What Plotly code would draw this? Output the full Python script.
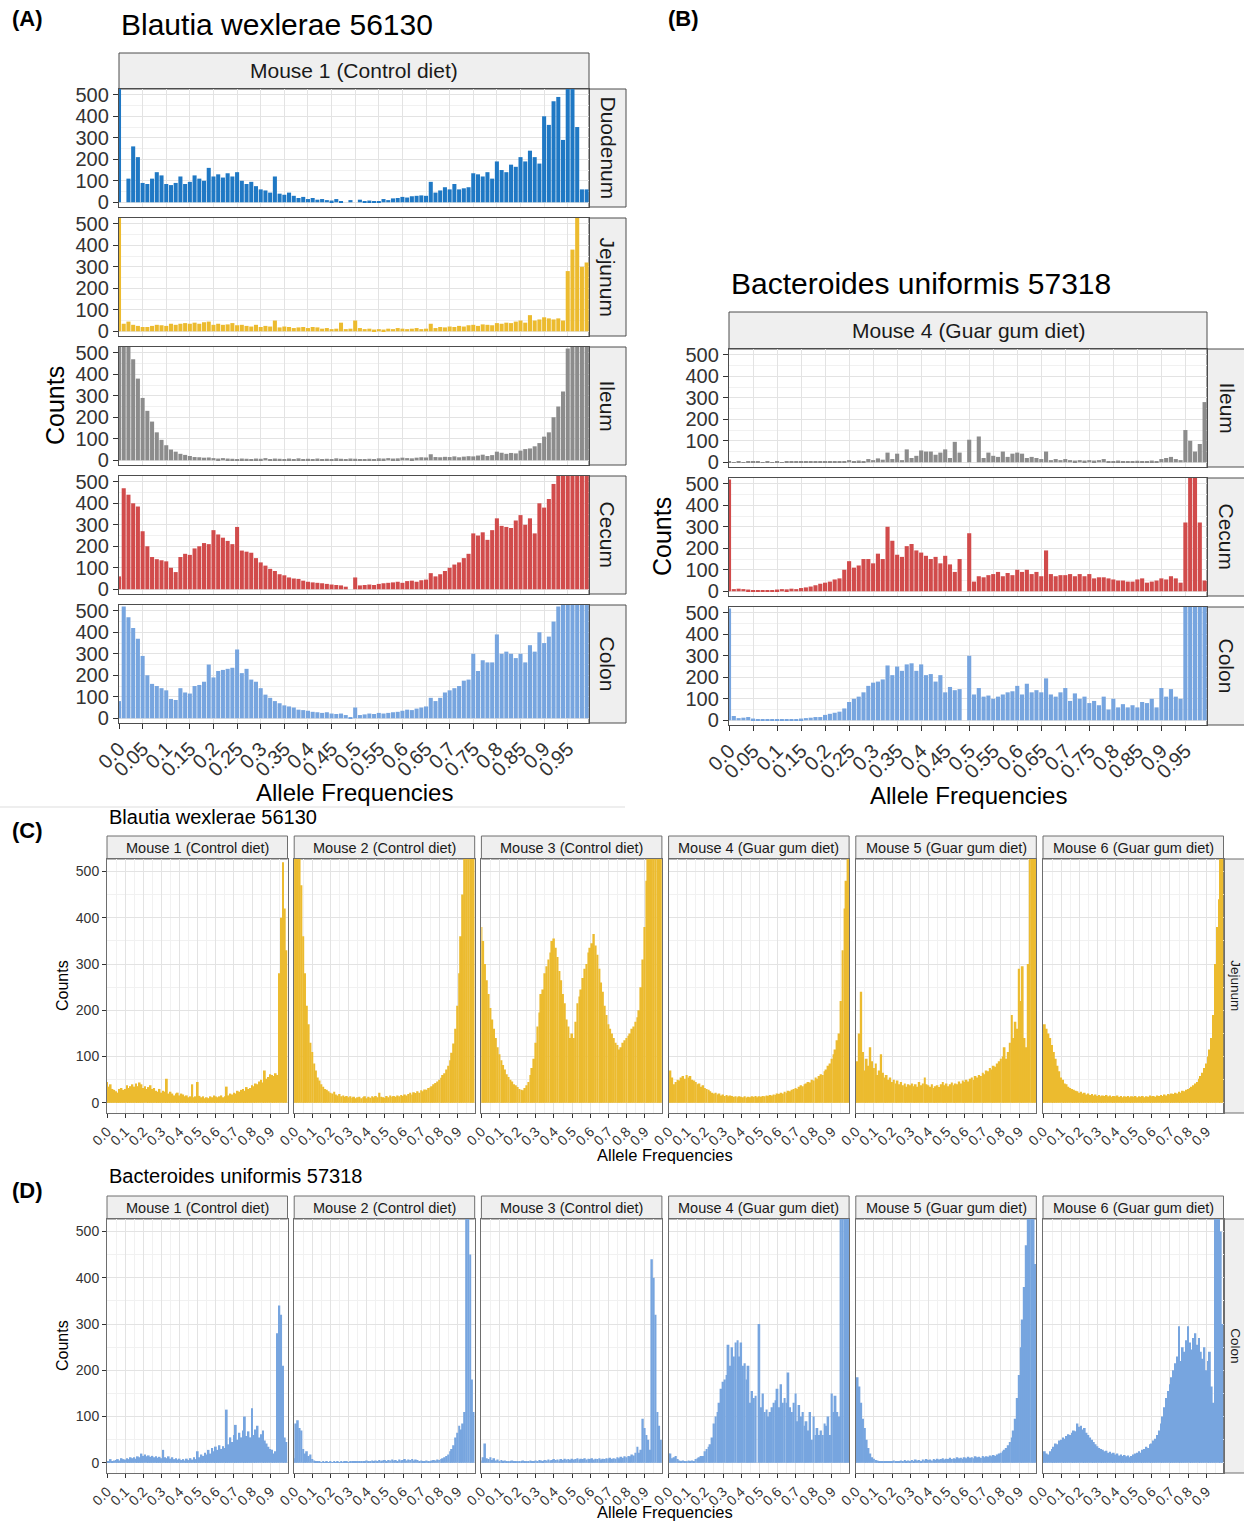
import plotly.graph_objects as go

W, H = 1244, 1523
FONT = "Liberation Sans, Arial, Helvetica, sans-serif"

# ---------------------------------------------------------------- bins / ticks
BIN_WIDTH = 0.01
bin_centers = [round(i * BIN_WIDTH, 2) for i in range(100)]

fine_tick_vals = [0.0, 0.05, 0.1, 0.15, 0.2, 0.25, 0.3, 0.35, 0.4, 0.45,
                  0.5, 0.55, 0.6, 0.65, 0.7, 0.75, 0.8, 0.85, 0.9, 0.95]
fine_tick_text = ["0.0", "0.05", "0.1", "0.15", "0.2", "0.25", "0.3", "0.35", "0.4", "0.45",
                  "0.5", "0.55", "0.6", "0.65", "0.7", "0.75", "0.8", "0.85", "0.9", "0.95"]
coarse_tick_vals = [0.0, 0.1, 0.2, 0.3, 0.4, 0.5, 0.6, 0.7, 0.8, 0.9]
coarse_tick_text = ["0.0", "0.1", "0.2", "0.3", "0.4", "0.5", "0.6", "0.7", "0.8", "0.9"]
count_tick_vals = [0, 100, 200, 300, 400, 500]
count_tick_text = ["0", "100", "200", "300", "400", "500"]

X_RANGE = [0, 0.995]
Y_RANGE = [-22, 527]

# ---------------------------------------------------------------- colours
COL_DUODENUM = "#1f78c4"
COL_JEJUNUM = "#ecbb2f"
COL_ILEUM = "#8c8c8c"
COL_CECUM = "#d14b4b"
COL_COLON = "#77a5df"

# ---------------------------------------------------------------- (A) Blautia wexlerae, mouse 1, all sections
bw_m1_duodenum = [
    600, 0, 110, 260, 210, 90, 85, 110, 140, 125,
    85, 80, 90, 120, 85, 95, 125, 110, 100, 160,
    120, 130, 115, 135, 120, 140, 100, 85, 95, 75,
    60, 55, 45, 120, 40, 35, 45, 30, 20, 25,
    15, 20, 12, 15, 10, 8, 15, 5, 0, 10,
    0, 12, 5, 8, 6, 5, 15, 10, 18, 20,
    25, 22, 28, 30, 32, 30, 95, 45, 55, 70,
    60, 85, 60, 65, 70, 135, 130, 120, 140, 110,
    190, 150, 140, 175, 165, 210, 190, 240, 210, 180,
    400, 360, 470, 490, 290, 600, 620, 350, 60, 60,
]
bw_m1_jejunum = [
    600, 35, 45, 30, 25, 20, 20, 25, 30, 28,
    25, 35, 30, 35, 38, 35, 40, 35, 42, 45,
    30, 35, 30, 32, 38, 28, 30, 25, 22, 30,
    20, 25, 22, 50, 18, 22, 20, 15, 18, 20,
    15, 20, 18, 12, 15, 10, 12, 40, 10, 12,
    50, 15, 10, 12, 8, 10, 8, 12, 10, 15,
    12, 10, 12, 15, 10, 12, 35, 15, 20, 18,
    22, 20, 25, 22, 28, 30, 25, 32, 30, 28,
    38, 35, 40, 38, 45, 50, 40, 75, 50, 55,
    65, 60, 55, 60, 50, 280, 380, 600, 300, 320,
]
bw_m1_ileum = [
    800, 700, 600, 470, 380, 290, 230, 180, 130, 95,
    70, 50, 40, 30, 25, 20, 15, 14, 12, 13,
    10, 8, 10, 8, 7, 6, 8, 7, 6, 8,
    7, 10, 6, 8, 7, 6, 8, 5, 9, 6,
    7, 5, 8, 6, 7, 5, 9, 7, 6, 8,
    7, 6, 5, 7, 6, 9, 8, 10, 8, 9,
    12, 10, 9, 12, 14, 13, 28, 15, 14, 16,
    15, 18, 14, 17, 19, 18, 22, 26, 20, 24,
    40, 35, 30, 34, 32, 45, 52, 55, 65, 80,
    110, 130, 200, 250, 320, 520, 620, 700, 750, 800,
]
bw_m1_cecum = [
    60, 470, 440, 400, 385, 270, 200, 150, 140, 135,
    130, 100, 80, 150, 165, 160, 190, 200, 215, 210,
    275, 255, 240, 225, 210, 290, 180, 175, 170, 145,
    125, 110, 95, 85, 70, 65, 55, 50, 48, 40,
    35, 32, 30, 28, 25, 22, 20, 18, 12, 0,
    55, 18, 20, 22, 20, 25, 28, 30, 32, 35,
    30, 38, 40, 35, 42, 45, 75, 60, 70, 85,
    100, 115, 125, 145, 165, 260, 250, 265, 230, 275,
    330, 295, 290, 285, 320, 345, 300, 330, 260, 400,
    380, 420, 490, 560, 620, 680, 700, 720, 700, 650,
]
bw_m1_colon = [
    80, 520, 470, 420, 370, 290, 200, 160, 150, 140,
    130, 90, 85, 140, 120, 115, 150, 155, 170, 250,
    190, 220, 225, 230, 235, 320, 210, 230, 180, 170,
    140, 110, 95, 80, 70, 60, 55, 50, 40, 38,
    35, 30, 28, 25, 28, 22, 20, 22, 15, 5,
    50, 15, 18, 22, 20, 25, 22, 25, 28, 30,
    35, 40, 38, 45, 50, 55, 95, 80, 95, 120,
    130, 140, 150, 175, 180, 300, 220, 270, 260, 260,
    390, 300, 310, 300, 280, 300, 260, 340, 310, 400,
    350, 380, 450, 520, 600, 700, 750, 800, 820, 800,
]

# ---------------------------------------------------------------- (B) Bacteroides uniformis, mouse 4
bu_m4_ileum = [
    2, 1, 2, 1, 2, 3, 2, 1, 2, 1,
    2, 1, 2, 3, 2, 2, 3, 2, 3, 4,
    4, 3, 5, 4, 6, 10, 6, 8, 5, 15,
    10, 18, 12, 45, 15, 40, 10, 60, 20, 30,
    55, 50, 50, 35, 45, 60, 20, 95, 45, 0,
    105, 0, 120, 20, 45, 30, 25, 50, 25, 40,
    45, 40, 20, 25, 20, 15, 50, 10, 15, 10,
    15, 10, 8, 10, 8, 10, 8, 10, 15, 5,
    5, 8, 4, 6, 5, 7, 4, 5, 8, 6,
    15, 20, 25, 15, 10, 150, 100, 50, 85, 280,
]
bu_m4_cecum = [
    520, 10, 12, 10, 8, 3, 5, 4, 6, 5,
    8, 10, 9, 12, 10, 15, 18, 22, 28, 35,
    40, 45, 55, 60, 100, 140, 110, 120, 150, 150,
    130, 175, 150, 300, 235, 170, 160, 210, 220, 190,
    180, 165, 150, 160, 130, 165, 125, 90, 150, 0,
    270, 45, 70, 65, 75, 80, 90, 70, 85, 75,
    100, 90, 100, 80, 90, 70, 190, 80, 70, 75,
    75, 80, 70, 80, 70, 80, 60, 65, 65, 60,
    55, 50, 50, 45, 45, 55, 60, 40, 45, 50,
    60, 55, 70, 60, 40, 320, 600, 650, 320, 50,
]
bu_m4_colon = [
    520, 20, 10, 12, 15, 8, 5, 4, 5, 3,
    4, 5, 3, 5, 4, 8, 10, 12, 15, 15,
    25, 30, 35, 40, 55, 85, 100, 110, 130, 160,
    175, 180, 190, 255, 210, 250, 230, 260, 265, 230,
    260, 210, 215, 180, 210, 130, 155, 140, 145, 0,
    300, 120, 150, 110, 115, 100, 110, 120, 130, 135,
    160, 120, 170, 130, 140, 130, 195, 120, 110, 130,
    150, 90, 125, 100, 110, 80, 90, 70, 110, 50,
    100, 60, 75, 60, 70, 60, 85, 80, 100, 60,
    150, 110, 145, 110, 100, 700, 800, 800, 750, 700,
]

# ---------------------------------------------------------------- (C) Blautia wexlerae, jejunum, mice 1-6
bw_jejunum_m1 = [
    45, 35, 40, 30, 28, 25, 22, 30, 32, 28,
    30, 38, 32, 36, 40, 35, 42, 36, 44, 40,
    32, 36, 30, 34, 38, 30, 32, 26, 24, 30,
    22, 26, 24, 52, 20, 24, 20, 16, 20, 22,
    16, 20, 18, 14, 16, 12, 14, 40, 12, 14,
    45, 15, 12, 14, 10, 12, 10, 14, 12, 16,
    14, 12, 14, 16, 12, 14, 35, 16, 20, 18,
    22, 20, 26, 24, 28, 30, 26, 34, 30, 32,
    38, 36, 42, 40, 46, 50, 44, 70, 52, 56,
    62, 60, 58, 64, 60, 280, 400, 520, 420, 330,
]
bw_jejunum_m2 = [
    800, 750, 650, 560, 470, 360, 280, 210, 170, 130,
    110, 85, 70, 55, 48, 40, 35, 30, 28, 25,
    22, 20, 24, 18, 16, 19, 14, 16, 13, 15,
    12, 14, 11, 13, 10, 12, 13, 10, 12, 14,
    10, 13, 11, 14, 12, 15, 12, 22, 13, 12,
    11, 15, 12, 16, 13, 15, 13, 16, 14, 17,
    15, 18, 16, 19, 22, 18, 23, 21, 25, 22,
    27, 25, 29, 28, 32, 33, 36, 40, 43, 46,
    50, 54, 60, 64, 72, 80, 92, 108, 128, 160,
    210, 280, 360, 450, 560, 680, 800, 850, 900, 900,
]
bw_jejunum_m3 = [
    380, 350, 300, 265, 235, 205, 180, 160, 140, 120,
    105, 92, 82, 72, 62, 56, 50, 46, 40, 38,
    34, 30, 28, 27, 32, 38, 45, 60, 75, 95,
    130, 165, 195, 235, 245, 280, 295, 310, 325, 350,
    355, 335, 315, 285, 265, 235, 215, 180, 165, 140,
    150, 140, 175, 215, 230, 245, 270, 290, 300, 325,
    335, 345, 365, 340, 320, 290, 260, 240, 210, 190,
    170, 160, 150, 140, 130, 125, 115, 120, 130, 135,
    140, 145, 150, 160, 165, 175, 185, 200, 250, 310,
    380, 480, 560, 650, 720, 800, 850, 900, 950, 950,
]
bw_jejunum_m4 = [
    65, 70, 55, 40, 45, 50, 48, 55, 58, 52,
    60, 55, 58, 50, 48, 45, 40, 42, 35, 38,
    32, 30, 28, 25, 22, 20, 22, 18, 20, 16,
    18, 15, 17, 14, 16, 15, 13, 14, 12, 14,
    13, 12, 14, 11, 13, 12, 14, 13, 15, 12,
    14, 13, 15, 14, 16, 15, 17, 16, 18, 17,
    20, 19, 22, 20, 24, 22, 26, 25, 28, 30,
    32, 30, 35, 38, 36, 40, 42, 45, 44, 50,
    48, 55, 52, 58, 62, 60, 68, 72, 80, 85,
    95, 105, 115, 135, 150, 220, 330, 420, 480, 560,
]
bw_jejunum_m5 = [
    60, 90, 150, 240, 110, 70, 95, 80, 120, 90,
    75, 85, 60, 70, 105, 65, 55, 60, 50, 55,
    45, 50, 42, 48, 40, 45, 38, 42, 35, 40,
    38, 42, 36, 40, 35, 45, 38, 42, 55, 40,
    38, 35, 40, 32, 36, 38, 34, 40, 45, 38,
    42, 36, 40, 44, 38, 42, 40, 46, 42, 48,
    45, 50, 46, 52, 55, 50, 58, 55, 60, 58,
    65, 62, 70, 68, 75, 72, 80, 78, 85, 90,
    95, 100, 120, 95, 110, 130, 190, 140, 175, 160,
    290, 220, 295, 140, 120, 300, 650, 750, 800, 800,
]
bw_jejunum_m6 = [
    165, 170, 160, 150, 140, 125, 110, 95, 80, 68,
    55, 50, 42, 40, 35, 32, 30, 28, 26, 25,
    22, 24, 20, 22, 18, 20, 17, 19, 16, 18,
    15, 17, 14, 16, 15, 17, 14, 16, 13, 15,
    14, 16, 13, 15, 12, 14, 13, 15, 12, 14,
    13, 15, 12, 14, 13, 15, 12, 14, 13, 16,
    14, 15, 13, 16, 15, 17, 15, 18, 16, 19,
    18, 20, 19, 22, 20, 24, 22, 26, 25, 28,
    30, 32, 35, 38, 42, 45, 52, 58, 65, 75,
    85, 100, 115, 140, 190, 300, 380, 440, 560, 650,
]

# ---------------------------------------------------------------- (D) Bacteroides uniformis, colon, mice 1-6
bu_colon_m1 = [
    0, 2, 8, 3, 5, 6, 8, 5, 10, 8,
    7, 10, 8, 12, 10, 12, 9, 14, 12, 20,
    15, 18, 14, 16, 13, 15, 12, 14, 11, 13,
    10, 28, 12, 10, 14, 9, 12, 8, 10, 7,
    9, 6, 8, 5, 9, 6, 10, 7, 12, 8,
    25, 12, 18, 15, 22, 18, 28, 20, 32, 25,
    35, 28, 38, 30, 36, 32, 115, 40, 55, 45,
    60, 82, 50, 65, 55, 70, 100, 58, 68, 55,
    118, 60, 72, 80, 55, 62, 70, 48, 42, 35,
    30, 28, 20, 25, 280, 340, 320, 210, 55, 45,
]
bu_colon_m2 = [
    10, 85, 92, 75, 70, 30, 20, 25, 15, 18,
    8, 5, 3, 2, 2, 1, 2, 1, 2, 1,
    2, 1, 2, 1, 2, 1, 2, 1, 2, 2,
    1, 3, 2, 3, 2, 3, 4, 3, 4, 3,
    5, 3, 4, 5, 3, 5, 4, 6, 4, 5,
    6, 4, 6, 5, 7, 5, 6, 4, 7, 5,
    6, 8, 5, 7, 6, 8, 5, 7, 6, 4,
    5, 3, 4, 5, 3, 4, 5, 6, 5, 7,
    6, 8, 10, 12, 15, 18, 25, 30, 38, 55,
    65, 80, 72, 85, 110, 600, 700, 450, 180, 110,
]
bu_colon_m3 = [
    5, 12, 42, 10, 8, 12, 6, 10, 5, 7,
    4, 6, 3, 5, 3, 4, 3, 5, 3, 4,
    3, 4, 3, 5, 4, 3, 4, 5, 3, 4,
    5, 4, 6, 5, 4, 6, 5, 7, 5, 6,
    8, 6, 7, 5, 8, 6, 9, 7, 8, 6,
    9, 7, 8, 10, 7, 9, 8, 10, 7, 9,
    8, 10, 7, 9, 8, 10, 7, 9, 8, 10,
    9, 11, 8, 10, 9, 12, 10, 13, 11, 14,
    12, 15, 14, 18, 16, 22, 35, 22, 28, 95,
    75, 60, 50, 28, 440, 400, 320, 110, 80, 50,
]
bu_colon_m4 = [
    20, 20, 10, 12, 15, 8, 5, 4, 5, 3,
    4, 5, 3, 5, 4, 8, 10, 12, 15, 15,
    25, 30, 35, 40, 55, 85, 100, 110, 130, 160,
    175, 180, 190, 255, 210, 250, 230, 260, 265, 230,
    260, 210, 215, 180, 210, 130, 155, 140, 145, 0,
    300, 120, 150, 110, 115, 100, 110, 120, 130, 135,
    160, 120, 170, 130, 140, 130, 195, 120, 110, 130,
    150, 90, 125, 100, 110, 80, 90, 70, 110, 50,
    100, 60, 75, 60, 70, 60, 85, 80, 100, 60,
    150, 110, 145, 110, 100, 700, 800, 800, 750, 700,
]
bu_colon_m5 = [
    60, 185, 165, 130, 95, 75, 50, 32, 20, 12,
    9, 6, 5, 4, 3, 4, 2, 3, 4, 2,
    3, 5, 3, 4, 2, 5, 3, 6, 4, 5,
    3, 6, 4, 7, 5, 6, 4, 7, 5, 8,
    6, 7, 5, 8, 6, 9, 7, 8, 10, 7,
    9, 8, 11, 8, 10, 9, 12, 10, 11, 9,
    12, 10, 13, 11, 12, 10, 14, 12, 13, 11,
    15, 12, 14, 13, 16, 14, 17, 15, 18, 20,
    22, 25, 28, 32, 38, 45, 55, 70, 95, 140,
    190, 250, 310, 380, 470, 560, 650, 700, 600, 430,
]
bu_colon_m6 = [
    15, 25, 20, 18, 25, 30, 35, 42, 40, 48,
    50, 55, 52, 58, 62, 60, 65, 70, 68, 85,
    78, 80, 72, 75, 65, 60, 55, 50, 45, 40,
    36, 32, 30, 28, 25, 26, 22, 24, 20, 22,
    18, 20, 16, 18, 15, 17, 14, 16, 12, 15,
    18, 20, 22, 25, 22, 28, 30, 35, 32, 40,
    42, 48, 52, 60, 70, 85, 100, 120, 140, 155,
    170, 185, 200, 215, 230, 295, 220, 250, 240, 265,
    295, 260, 245, 270, 280, 255, 270, 240, 225, 250,
    200, 220, 240, 165, 130, 600, 650, 620, 500, 300,
]

# ---------------------------------------------------------------- styling constants
GRID = "#e3e3e3"
GRID_MINOR = "#f1f1f1"
STRIP_FILL = "#efefef"
TEXT_DARK = "#1a1a1a"
TICK_TEXT = "#333333"

fig = go.Figure()
shapes = []
annotations = []
panel_count = [0]


def px_x(x):
    return x / W


def px_y(y):
    return 1 - y / H


def add_panel(values, color, box, big, show_x, show_y):
    """One histogram panel inside the pixel box (x0, x1, y0, y1)."""
    panel_count[0] += 1
    k = panel_count[0]
    sfx = "" if k == 1 else str(k)
    x0, x1, y0, y1 = box
    border = "#4d4d4d" if big else "#6e6e6e"
    fig.add_trace(go.Bar(
        x=bin_centers, y=values,
        width=BIN_WIDTH * (0.86 if big else 1.0),
        marker=dict(color=color, line=dict(width=0)),
        xaxis="x" + sfx, yaxis="y" + sfx,
        hoverinfo="skip", showlegend=False,
    ))
    tick_font = dict(family=FONT, size=20 if big else 14, color=TICK_TEXT)
    xa = dict(
        domain=[px_x(x0), px_x(x1)], anchor="y" + sfx, range=X_RANGE, fixedrange=True,
        tickmode="array",
        tickvals=fine_tick_vals if big else coarse_tick_vals,
        ticktext=fine_tick_text if big else coarse_tick_text,
        showticklabels=show_x, ticks="outside" if show_x else "",
        ticklen=5 if big else 4, tickwidth=1, tickcolor=TICK_TEXT,
        tickangle=-45, tickfont=tick_font,
        showgrid=True, gridcolor=GRID, gridwidth=1, zeroline=False,
        showline=True, mirror=True, linecolor=border, linewidth=1.4 if big else 1,
        automargin=False,
    )
    if not big:
        xa["minor"] = dict(tickmode="linear", tick0=0, dtick=0.05, showgrid=True,
                           gridcolor=GRID_MINOR, gridwidth=1, ticks="")
    ya = dict(
        domain=[px_y(y1), px_y(y0)], anchor="x" + sfx, range=Y_RANGE, fixedrange=True,
        tickmode="array", tickvals=count_tick_vals, ticktext=count_tick_text,
        showticklabels=show_y, ticks="outside" if show_y else "",
        ticklen=5 if big else 4, tickwidth=1, tickcolor=TICK_TEXT, tickfont=tick_font,
        showgrid=True, gridcolor=GRID, gridwidth=1, zeroline=False,
        showline=True, mirror=True, linecolor=border, linewidth=1.4 if big else 1,
        minor=dict(tickmode="linear", tick0=0, dtick=50, showgrid=True,
                   gridcolor=GRID_MINOR, gridwidth=1, ticks=""),
        automargin=False,
    )
    fig.update_layout(**{"xaxis" + sfx: xa, "yaxis" + sfx: ya})


def add_strip(box, text, size, vertical=False, line="#4d4d4d"):
    x0, x1, y0, y1 = box
    shapes.append(dict(type="rect", xref="paper", yref="paper",
                       x0=px_x(x0), x1=px_x(x1), y0=px_y(y1), y1=px_y(y0),
                       fillcolor=STRIP_FILL, line=dict(color=line, width=1), layer="below"))
    annotations.append(dict(text=text, xref="paper", yref="paper",
                            x=px_x((x0 + x1) / 2), y=px_y((y0 + y1) / 2),
                            xanchor="center", yanchor="middle", showarrow=False,
                            textangle=90 if vertical else 0,
                            font=dict(family=FONT, size=size, color=TEXT_DARK)))


def add_text(text, x, y, size, xanchor="left", angle=0, color="#000000"):
    annotations.append(dict(text=text, xref="paper", yref="paper",
                            x=px_x(x), y=px_y(y), xanchor=xanchor, yanchor="middle",
                            showarrow=False, textangle=angle,
                            font=dict(family=FONT, size=size, color=color)))


# ---------------------------------------------------------------- (A)
a_sections = [
    ("Duodenum", bw_m1_duodenum, COL_DUODENUM),
    ("Jejunum", bw_m1_jejunum, COL_JEJUNUM),
    ("Ileum", bw_m1_ileum, COL_ILEUM),
    ("Cecum", bw_m1_cecum, COL_CECUM),
    ("Colon", bw_m1_colon, COL_COLON),
]
A_X0, A_X1 = 119, 589
A_ROWS = [(89, 207), (218, 336), (347, 465), (476, 594), (605, 723)]
add_strip((A_X0, A_X1, 53, 89), "Mouse 1 (Control diet)", 21)
for i, (name, vals, col) in enumerate(a_sections):
    y0, y1 = A_ROWS[i]
    add_panel(vals, col, (A_X0, A_X1, y0, y1), True, i == len(a_sections) - 1, True)
    add_strip((A_X1, 626, y0, y1), name, 21, vertical=True)
add_text("<b>(A)</b>", 10, 18, 22)
add_text("Blautia wexlerae 56130", 119, 25, 30)
add_text("Counts", 55, 406, 25, xanchor="center", angle=-90)
add_text("Allele Frequencies", 354, 793, 24, xanchor="center")

# ---------------------------------------------------------------- (B)
b_sections = [
    ("Ileum", bu_m4_ileum, COL_ILEUM),
    ("Cecum", bu_m4_cecum, COL_CECUM),
    ("Colon", bu_m4_colon, COL_COLON),
]
B_X0, B_X1 = 729, 1207
B_ROWS = [(349, 467), (478, 596), (607, 725)]
add_strip((B_X0, B_X1, 312, 349), "Mouse 4 (Guar gum diet)", 21)
for i, (name, vals, col) in enumerate(b_sections):
    y0, y1 = B_ROWS[i]
    add_panel(vals, col, (B_X0, B_X1, y0, y1), True, i == len(b_sections) - 1, True)
    add_strip((B_X1, 1246, y0, y1), name, 21, vertical=True)
add_text("<b>(B)</b>", 666, 18, 22)
add_text("Bacteroides uniformis 57318", 729, 283, 30)
add_text("Counts", 662, 537, 25, xanchor="center", angle=-90)
add_text("Allele Frequencies", 968, 795, 24, xanchor="center")

# thin rule under panel (A)
shapes.append(dict(type="line", xref="paper", yref="paper",
                   x0=0, x1=px_x(625), y0=px_y(807), y1=px_y(807),
                   line=dict(color="#dddddd", width=1)))

# ---------------------------------------------------------------- (C) and (D)
mouse_labels = ["Mouse 1 (Control diet)", "Mouse 2 (Control diet)", "Mouse 3 (Control diet)",
                "Mouse 4 (Guar gum diet)", "Mouse 5 (Guar gum diet)", "Mouse 6 (Guar gum diet)"]
c_series = [bw_jejunum_m1, bw_jejunum_m2, bw_jejunum_m3,
            bw_jejunum_m4, bw_jejunum_m5, bw_jejunum_m6]
d_series = [bu_colon_m1, bu_colon_m2, bu_colon_m3,
            bu_colon_m4, bu_colon_m5, bu_colon_m6]

COL_X0, COL_STEP, COL_W = 107, 187.2, 180.5


def facet_row(series, color, strip_top, panel_top, panel_bottom, side_label):
    for j, vals in enumerate(series):
        x0 = COL_X0 + j * COL_STEP
        x1 = x0 + COL_W
        add_strip((x0, x1, strip_top, panel_top), mouse_labels[j], 14.5, line="#6e6e6e")
        add_panel(vals, color, (x0, x1, panel_top, panel_bottom), False, True, j == 0)
    last_x1 = COL_X0 + 5 * COL_STEP + COL_W
    add_strip((last_x1, 1248, panel_top, panel_bottom), side_label, 13.5, vertical=True,
              line="#6e6e6e")


facet_row(c_series, COL_JEJUNUM, 836, 859, 1113, "Jejunum")
add_text("<b>(C)</b>", 10, 830, 22)
add_text("Blautia wexlerae 56130", 107, 817, 20)
add_text("Counts", 62, 986, 16, xanchor="center", angle=-90)
add_text("Allele Frequencies", 665, 1155, 16.5, xanchor="center")

facet_row(d_series, COL_COLON, 1196, 1219, 1473, "Colon")
add_text("<b>(D)</b>", 10, 1190, 22)
add_text("Bacteroides uniformis 57318", 107, 1176, 20)
add_text("Counts", 62, 1346, 16, xanchor="center", angle=-90)
add_text("Allele Frequencies", 665, 1512, 16.5, xanchor="center")

fig.update_layout(
    template="none",
    width=W, height=H, autosize=False,
    margin=dict(l=0, r=0, t=0, b=0, pad=0),
    paper_bgcolor="white", plot_bgcolor="white",
    font=dict(family=FONT, color=TEXT_DARK),
    showlegend=False,
    shapes=shapes,
    annotations=annotations,
)

fig.write_html("out.html", config={"displayModeBar": False})
